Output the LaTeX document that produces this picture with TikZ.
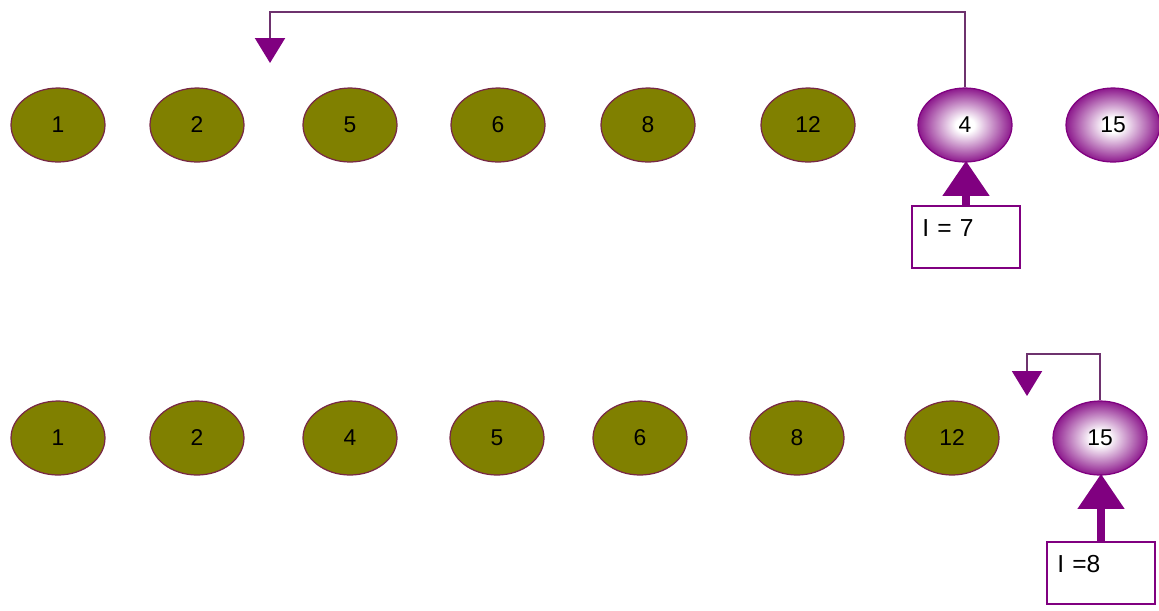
\documentclass[tikz,border=0pt]{standalone}
\usepackage{fontspec}
\setmainfont{Liberation Sans}
\usetikzlibrary{shapes.geometric,arrows.meta}
\definecolor{olivefill}{RGB}{128,128,0}
\definecolor{olivedraw}{RGB}{120,40,70}
\definecolor{purp}{RGB}{128,0,128}
\definecolor{linepurp}{RGB}{110,50,110}
\pgfdeclareradialshading{purpball}{\pgfpoint{0bp}{0bp}}{color(0bp)=(white); color(5bp)=(white); color(15bp)=(purp!45!white); color(25bp)=(purp!90!white); color(30bp)=(purp); color(50bp)=(purp)}
\tikzset{
  olv/.style={ellipse, draw=olivedraw, line width=0.7pt, fill=olivefill, minimum width=1.88cm, minimum height=1.48cm, inner sep=0pt, font=\fontsize{13}{15}\selectfont},
  pball/.style={ellipse, draw=purp, line width=0.7pt, shading=purpball, minimum width=1.88cm, minimum height=1.48cm, inner sep=0pt, font=\fontsize{13}{15}\selectfont},
  ibox/.style={rectangle, draw=purp, line width=1.1pt, fill=white, minimum width=2.16cm, minimum height=1.24cm, text width=1.75cm, align=left, inner sep=0pt, text height=0.35cm, text depth=0.38cm, font=\fontsize{14}{16}\selectfont},
  conn/.style={draw=linepurp, line width=1.2pt, -{Triangle[width=0.6cm,length=0.5cm,color=purp]}},
  bigarr/.style={draw=purp, line width=4.5pt, -{Triangle[width=0.9cm,length=0.7cm,color=purp]}, shorten >=-1pt}
}
\begin{document}
\begin{tikzpicture}[x=0.02cm,y=-0.02cm]
\useasboundingbox[fill=white] (0,0) rectangle (1159,610);
% top row
\node[olv] (a1) at (58,125) {1};
\node[olv] (a2) at (197,125) {2};
\node[olv] (a5) at (350,125) {5};
\node[olv] (a6) at (498,125) {6};
\node[olv] (a8) at (648,125) {8};
\node[olv] (a12) at (808,125) {12};
\node[pball] (a4) at (965,125) {4};
\node[pball] (a15) at (1113,125) {15};
\node[ibox] (ia) at (966,237) {I = 7};
\coordinate (ca) at (270,12);
\coordinate (ta) at (270,63);
\draw[conn] (a4.north) |- (ca) -- (ta);
\draw[bigarr] (ia.north) -- (ia.north |- a4.south);
% bottom row
\node[olv] (b1) at (58,438) {1};
\node[olv] (b2) at (197,438) {2};
\node[olv] (b4) at (350,438) {4};
\node[olv] (b5) at (497,438) {5};
\node[olv] (b6) at (640,438) {6};
\node[olv] (b8) at (797,438) {8};
\node[olv] (b12) at (952,438) {12};
\node[pball] (b15) at (1100,438) {15};
\node[ibox] (ib) at (1101,573) {I =8};
\coordinate (cb) at (1027,354);
\coordinate (tb) at (1027,396);
\draw[conn] (b15.north) |- (cb) -- (tb);
\draw[bigarr] (ib.north) -- (ib.north |- b15.south);
\end{tikzpicture}
\end{document}
